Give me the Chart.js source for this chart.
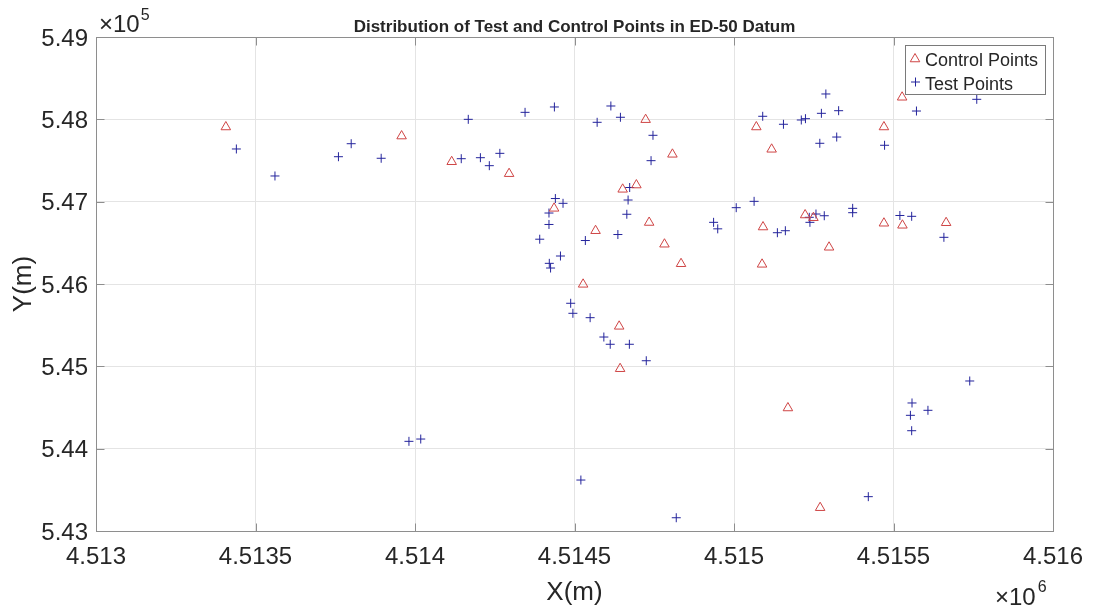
<!DOCTYPE html>
<html>
<head>
<meta charset="utf-8">
<title>Distribution of Test and Control Points in ED-50 Datum</title>
<script src="https://cdn.jsdelivr.net/npm/chart.js@4.4.0/dist/chart.umd.min.js"></script>
<style>
  html, body { margin: 0; padding: 0; background: #fff; }
  #wrap { width: 1100px; height: 612px; position: relative; }
</style>
</head>
<body>
<div id="wrap"><canvas id="plot" width="1100" height="612"></canvas></div>
<script>
// control points (triangles), metres
const controlX = [4513407, 4513958, 4514115, 4514295, 4514436, 4514566, 4514527, 4514640, 4514643, 4514723,
                  4514807, 4514651, 4514694, 4514734, 4514782, 4514834, 4515070, 4515118, 4515091, 4515088,
                  4515223, 4515249, 4515298, 4515470, 4515527, 4515470, 4515528, 4515665, 4515169, 4515270];
const controlY = [547907, 547797, 547485, 547340, 546919, 546647, 545996, 545486, 544971, 547996,
                  547575, 547150, 547202, 546747, 546483, 546246, 547907, 547636, 546692, 546239,
                  546838, 546805, 546446, 547907, 548268, 546738, 546713, 546744, 544494, 543283];

// test points (plus signs), metres
const testX = [4513440, 4513561, 4513760, 4513800, 4513894, 4514145, 4514167, 4514205, 4514233, 4514266,
               4514345, 4514437, 4514440, 4514464, 4514420, 4514420, 4514391, 4514456, 4514421, 4514425,
               4514534, 4514571, 4514614, 4514644, 4514746, 4514740, 4514673, 4514668, 4514664, 4514636,
               4514936, 4514949, 4515007, 4515063, 4515090, 4515155, 4515211, 4515224, 4515288, 4515274,
               4515328, 4515269, 4515322, 4515472, 4515572, 4515761, 4515236, 4515238, 4515257, 4515283,
               4515372, 4515372, 4515161, 4515136, 4515520, 4515557, 4515658, 4514488, 4514495, 4514549,
               4514592, 4514612, 4514672, 4514725, 4514520, 4514819, 4513981, 4514018, 4515558, 4515553,
               4515608, 4515557, 4515739, 4515421];
const testY = [547640, 547312, 547546, 547704, 547527, 547522, 548000, 547534, 547437, 547587,
               548085, 548150, 547038, 546980, 546862, 546723, 546544, 546340, 546251, 546194,
               546528, 547964, 548162, 548025, 547806, 547498, 547172, 547020, 546847, 546601,
               546749, 546670, 546927, 547004, 548037, 547940, 547992, 548008, 548308, 548073,
               548105, 547709, 547785, 547685, 548101, 548243, 546810, 546749, 546850, 546829,
               546919, 546866, 546647, 546623, 546832, 546822, 546567, 545766, 545644, 545591,
               545356, 545268, 545268, 545068, 543619, 543161, 544089, 544117, 544555, 544405,
               544466, 544218, 544822, 543417];

// axis limits and tick spacing
const xRange = [4513000, 4516000];
const xStep = 500;
const yRange = [543000, 549000];
const yStep = 1000;

const seriesNames = ['Control Points', 'Test Points'];
const titleText = 'Distribution of Test and Control Points in ED-50 Datum';

const FONT = '"Liberation Sans", Arial, sans-serif';
const axisColor = '#8e8e8e';
const textColor = '#262626';
const redColor = '#cf4545';
const blueColor = '#24249c';

function toPoints(xs, ys) {
    return xs.map((x, i) => ({ x: x, y: ys[i] }));
}

function drawTriangle(ctx, x, y, r) {
    ctx.beginPath();
    ctx.moveTo(x, y - r);
    ctx.lineTo(x + r * Math.sin(2 * Math.PI / 3), y - r * Math.cos(2 * Math.PI / 3));
    ctx.lineTo(x + r * Math.sin(4 * Math.PI / 3), y - r * Math.cos(4 * Math.PI / 3));
    ctx.closePath();
    ctx.stroke();
}

function drawCross(ctx, x, y, r) {
    ctx.beginPath();
    ctx.moveTo(x - r, y); ctx.lineTo(x + r, y);
    ctx.moveTo(x, y - r); ctx.lineTo(x, y + r);
    ctx.stroke();
}

// matlab-ish frame: box, inward ticks, title, exponents, labels, legend
const matlabFrame = {
    id: 'matlabFrame',
    beforeDraw(chart) {
        const ctx = chart.ctx;
        ctx.save();
        ctx.fillStyle = '#fff';
        ctx.fillRect(0, 0, chart.width, chart.height);
        ctx.restore();
    },
    afterDatasetsDraw(chart) {
        const ctx = chart.ctx;
        const a = chart.chartArea;
        const sx = chart.scales.x;
        const sy = chart.scales.y;
        const L = Math.round(a.left) + 0.5, R = Math.round(a.right) + 0.5;
        const T = Math.round(a.top) + 0.5, B = Math.round(a.bottom) + 0.5;
        const tl = 8;

        ctx.save();
        ctx.strokeStyle = axisColor;
        ctx.lineWidth = 1;
        ctx.strokeRect(L, T, R - L, B - T);

        ctx.beginPath();
        sx.ticks.forEach(t => {
            const px = Math.round(sx.getPixelForValue(t.value)) + 0.5;
            ctx.moveTo(px, B); ctx.lineTo(px, B - tl);
            ctx.moveTo(px, T); ctx.lineTo(px, T + tl);
        });
        sy.ticks.forEach(t => {
            const py = Math.round(sy.getPixelForValue(t.value)) + 0.5;
            ctx.moveTo(L, py); ctx.lineTo(L + tl, py);
            ctx.moveTo(R, py); ctx.lineTo(R - tl, py);
        });
        ctx.stroke();

        ctx.fillStyle = textColor;

        // title
        ctx.font = 'bold 17px ' + FONT;
        ctx.textAlign = 'center';
        ctx.textBaseline = 'alphabetic';
        ctx.fillText(titleText, (a.left + a.right) / 2, 32);

        // exponent labels
        ctx.textAlign = 'left';
        ctx.font = '24px ' + FONT;
        ctx.fillText('\u00d710', 99, 32);
        let w = ctx.measureText('\u00d710').width;
        ctx.font = '16px ' + FONT;
        ctx.fillText('5', 99 + w + 1, 20);

        ctx.font = '24px ' + FONT;
        ctx.fillText('\u00d710', 995, 605);
        w = ctx.measureText('\u00d710').width;
        ctx.font = '16px ' + FONT;
        ctx.fillText('6', 995 + w + 2, 592);

        // axis titles
        ctx.font = '26px ' + FONT;
        ctx.textAlign = 'center';
        ctx.fillText('X(m)', (a.left + a.right) / 2, 600);
        ctx.save();
        ctx.translate(31, (a.top + a.bottom) / 2);
        ctx.rotate(-Math.PI / 2);
        ctx.fillText('Y(m)', 0, 0);
        ctx.restore();

        // legend
        const lx = 905.5, ly = 45.5, lw = 140, lh = 49;
        ctx.fillStyle = '#fff';
        ctx.fillRect(lx, ly, lw, lh);
        ctx.strokeStyle = '#7a7a7a';
        ctx.strokeRect(lx, ly, lw, lh);

        ctx.lineWidth = 1;
        ctx.strokeStyle = redColor;
        drawTriangle(ctx, 915, 59, 5.5);
        ctx.strokeStyle = blueColor;
        drawCross(ctx, 915.5, 82, 4.5);

        ctx.fillStyle = textColor;
        ctx.font = '18px ' + FONT;
        ctx.textAlign = 'left';
        ctx.fillText(seriesNames[0], 925, 66);
        ctx.fillText(seriesNames[1], 925, 90);
        ctx.restore();
    }
};

const ctx = document.getElementById('plot').getContext('2d');

new Chart(ctx, {
    type: 'scatter',
    data: {
        datasets: [{
            label: seriesNames[0],
            data: toPoints(controlX, controlY),
            pointStyle: 'triangle',
            pointRadius: 5.5,
            pointBorderWidth: 1,
            borderColor: redColor,
            backgroundColor: 'rgba(0,0,0,0)'
        }, {
            label: seriesNames[1],
            data: toPoints(testX, testY),
            pointStyle: 'cross',
            pointRadius: 4.5,
            pointBorderWidth: 1,
            borderColor: blueColor,
            backgroundColor: 'rgba(0,0,0,0)'
        }]
    },
    options: {
        responsive: false,
        animation: false,
        devicePixelRatio: 1,
        layout: { padding: { top: 37, right: 47, bottom: 0, left: 0 } },
        plugins: {
            legend: { display: false },
            tooltip: { enabled: false },
            title: { display: false }
        },
        events: [],
        scales: {
            x: {
                type: 'linear',
                min: xRange[0],
                max: xRange[1],
                border: { display: false },
                grid: { color: '#e4e4e4', drawTicks: false, lineWidth: 1 },
                ticks: {
                    stepSize: xStep,
                    autoSkip: false,
                    maxRotation: 0,
                    padding: 12,
                    color: textColor,
                    font: { family: FONT, size: 24 },
                    callback: function(value) {
                        return (value / 1e6).toString();
                    }
                },
                afterFit: function(scale) {
                    scale.height = 81;
                    scale.paddingLeft = 0;
                    scale.paddingRight = 0;
                }
            },
            y: {
                type: 'linear',
                min: yRange[0],
                max: yRange[1],
                border: { display: false },
                grid: { color: '#e4e4e4', drawTicks: false, lineWidth: 1 },
                ticks: {
                    stepSize: yStep,
                    autoSkip: false,
                    padding: 8,
                    labelOffset: 2,
                    color: textColor,
                    font: { family: FONT, size: 24 },
                    callback: function(value) {
                        return (value / 1e5).toString();
                    }
                },
                afterFit: function(scale) {
                    scale.width = 96;
                    scale.paddingTop = 0;
                    scale.paddingBottom = 0;
                }
            }
        }
    },
    plugins: [matlabFrame]
});
</script>
</body>
</html>
